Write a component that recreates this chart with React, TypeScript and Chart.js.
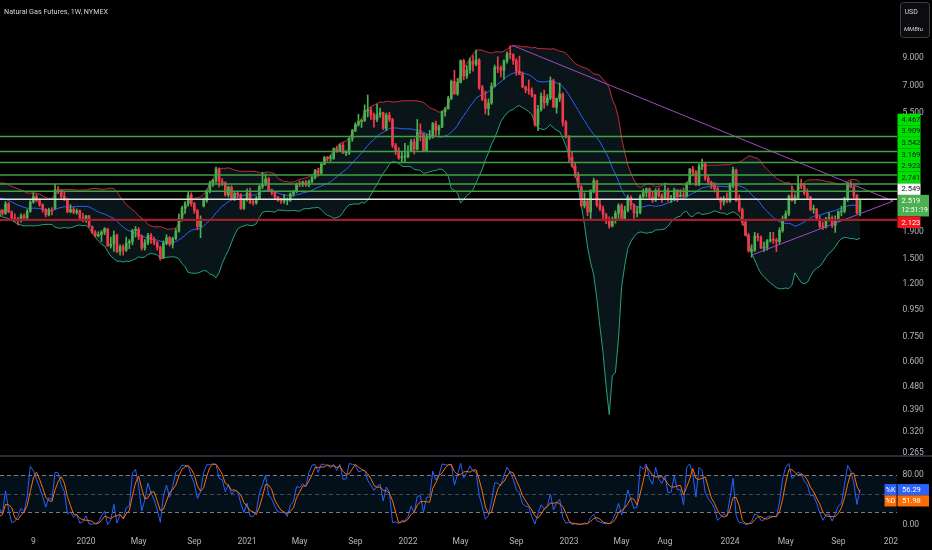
import React, { useEffect, useRef } from "react";
import { Chart, registerables } from "chart.js";

Chart.register(...registerables);

// Weekly NG1! candles [open, high, low, close]; week index 0 = 2019-02-04
const bars2019 = [
  [2.70, 2.74, 2.56, 2.58], [2.58, 2.68, 2.53, 2.57], [2.57, 2.72, 2.55, 2.70], [2.70, 2.90, 2.68, 2.86],
  [2.86, 2.96, 2.80, 2.87], [2.87, 2.89, 2.76, 2.80], [2.80, 2.86, 2.74, 2.76], [2.76, 2.77, 2.63, 2.66],
  [2.66, 2.73, 2.62, 2.67], [2.67, 2.70, 2.58, 2.66], [2.66, 2.68, 2.47, 2.49], [2.49, 2.60, 2.47, 2.57],
  [2.57, 2.64, 2.52, 2.58], [2.58, 2.66, 2.53, 2.59], [2.59, 2.68, 2.56, 2.63], [2.63, 2.65, 2.52, 2.59],
  [2.59, 2.61, 2.41, 2.45], [2.45, 2.46, 2.30, 2.33], [2.33, 2.44, 2.29, 2.34], [2.34, 2.36, 2.15, 2.19],
  [2.19, 2.35, 2.17, 2.31], [2.31, 2.33, 2.21, 2.25], [2.25, 2.50, 2.23, 2.45], [2.45, 2.48, 2.26, 2.28],
  [2.28, 2.30, 2.14, 2.16], [2.16, 2.24, 2.09, 2.12], [2.13, 2.17, 2.03, 2.12], [2.12, 2.24, 2.08, 2.20],
  [2.20, 2.24, 2.13, 2.16], [2.16, 2.33, 2.14, 2.29], [2.29, 2.52, 2.27, 2.49], [2.49, 2.70, 2.46, 2.61],
  [2.61, 2.66, 2.49, 2.52], [2.52, 2.56, 2.39, 2.43], [2.43, 2.45, 2.27, 2.33], [2.33, 2.35, 2.18, 2.22],
  [2.22, 2.36, 2.20, 2.32], [2.32, 2.37, 2.22, 2.30], [2.35, 2.92, 2.33, 2.78], [2.80, 2.86, 2.68, 2.77],
  [2.77, 2.78, 2.55, 2.62], [2.62, 2.72, 2.52, 2.55], [2.55, 2.57, 2.26, 2.28], [2.28, 2.43, 2.26, 2.33],
  [2.33, 2.37, 2.24, 2.27], [2.27, 2.34, 2.23, 2.30], [2.30, 2.32, 2.14, 2.16], [2.16, 2.25, 2.09, 2.13],
];
const bars2020 = [
  [2.13, 2.21, 2.08, 2.20], [2.20, 2.21, 1.99, 2.00], [2.00, 2.01, 1.88, 1.89], [1.89, 1.93, 1.82, 1.84],
  [1.84, 1.91, 1.82, 1.86], [1.86, 1.93, 1.75, 1.90], [1.90, 1.98, 1.86, 1.96], [1.96, 1.97, 1.68, 1.68],
  [1.68, 1.82, 1.65, 1.71], [1.71, 1.92, 1.60, 1.85], [1.85, 1.87, 1.58, 1.60], [1.60, 1.70, 1.55, 1.67],
  [1.67, 1.70, 1.55, 1.62], [1.62, 1.82, 1.60, 1.73], [1.73, 1.78, 1.64, 1.75], [1.75, 1.95, 1.70, 1.93],
  [1.93, 2.00, 1.82, 1.95], [1.95, 1.98, 1.78, 1.83], [1.83, 1.86, 1.62, 1.65], [1.65, 1.78, 1.62, 1.73],
  [1.73, 1.88, 1.70, 1.85], [1.85, 1.88, 1.72, 1.78], [1.78, 1.82, 1.70, 1.73], [1.73, 1.75, 1.62, 1.66],
  [1.66, 1.68, 1.48, 1.50], [1.52, 1.76, 1.50, 1.72], [1.72, 1.86, 1.70, 1.81], [1.81, 1.83, 1.68, 1.71],
  [1.71, 1.82, 1.65, 1.80], [1.80, 1.96, 1.78, 1.92], [1.92, 2.24, 1.90, 2.15], [2.15, 2.40, 2.10, 2.36],
  [2.36, 2.50, 2.25, 2.45], [2.45, 2.72, 2.40, 2.65], [2.65, 2.70, 2.40, 2.45], [2.45, 2.48, 2.25, 2.30],
  [2.30, 2.33, 1.95, 2.00], [2.00, 2.20, 1.81, 2.14], [2.40, 2.58, 2.38, 2.52], [2.52, 2.78, 2.48, 2.74],
  [2.74, 3.00, 2.70, 2.95], [2.95, 3.05, 2.86, 3.02], [3.02, 3.40, 2.95, 3.35], [3.35, 3.38, 2.85, 2.99],
  [2.99, 3.07, 2.88, 2.96], [2.96, 2.98, 2.62, 2.65], [2.65, 2.87, 2.60, 2.84], [2.84, 2.88, 2.53, 2.58],
  [2.58, 2.72, 2.52, 2.69], [2.69, 2.74, 2.58, 2.66], [2.66, 2.68, 2.33, 2.35], [2.35, 2.56, 2.33, 2.54],
];
const bars2021 = [
  [2.54, 2.80, 2.51, 2.70], [2.70, 2.82, 2.45, 2.48], [2.48, 2.54, 2.42, 2.47], [2.47, 2.62, 2.44, 2.56],
  [2.56, 2.90, 2.55, 2.86], [2.86, 3.25, 2.80, 2.92], [2.92, 3.20, 2.88, 3.06], [3.06, 3.10, 2.74, 2.77],
  [2.77, 2.80, 2.65, 2.71], [2.71, 2.72, 2.55, 2.60], [2.60, 2.62, 2.50, 2.52], [2.53, 2.57, 2.46, 2.51],
  [2.51, 2.66, 2.46, 2.52], [2.52, 2.58, 2.43, 2.53], [2.53, 2.70, 2.50, 2.68], [2.68, 2.76, 2.62, 2.73],
  [2.73, 2.95, 2.70, 2.93], [2.93, 3.00, 2.85, 2.92], [2.92, 3.00, 2.86, 2.97], [2.97, 3.02, 2.86, 2.90],
  [2.90, 3.03, 2.85, 2.99], [2.99, 3.13, 2.96, 3.10], [3.10, 3.33, 3.06, 3.30], [3.30, 3.37, 3.13, 3.22],
  [3.22, 3.52, 3.19, 3.49], [3.49, 3.74, 3.48, 3.70], [3.70, 3.74, 3.58, 3.67], [3.67, 3.79, 3.58, 3.68],
  [3.68, 4.04, 3.64, 4.00], [4.00, 4.09, 3.88, 3.91], [3.91, 4.18, 3.90, 4.14], [4.14, 4.22, 3.83, 3.85],
  [3.85, 3.94, 3.76, 3.86], [3.86, 4.42, 3.80, 4.39], [4.39, 4.76, 4.28, 4.71], [4.71, 5.05, 4.66, 4.96],
  [4.96, 5.45, 4.90, 5.10], [5.10, 5.20, 4.84, 5.15], [5.15, 5.92, 5.10, 5.62], [5.62, 6.47, 5.32, 5.64],
  [5.64, 5.80, 5.20, 5.41], [5.41, 5.50, 4.85, 5.20], [5.20, 5.95, 5.10, 5.43], [5.43, 5.75, 5.30, 5.52],
  [5.52, 5.55, 4.75, 4.80], [4.80, 5.50, 4.70, 5.40], [5.40, 5.55, 5.10, 5.20], [5.20, 5.25, 4.05, 4.13],
  [4.13, 4.20, 3.80, 3.93], [3.93, 4.05, 3.64, 3.69], [3.69, 3.92, 3.54, 3.73], [3.72, 4.20, 3.56, 3.73],
];
const bars2022 = [
  [3.73, 4.12, 3.69, 3.92], [3.92, 4.35, 3.90, 4.26], [4.26, 4.37, 3.82, 3.99], [3.99, 5.20, 3.96, 4.64],
  [4.64, 5.00, 4.30, 4.57], [4.57, 4.60, 3.90, 3.94], [3.94, 4.55, 3.93, 4.42], [4.42, 4.72, 4.35, 4.44],
  [4.44, 5.06, 4.40, 5.01], [5.01, 5.12, 4.48, 4.73], [4.73, 4.95, 4.52, 4.86], [4.86, 5.62, 4.83, 5.57],
  [5.57, 5.80, 5.35, 5.72], [5.72, 6.40, 5.70, 6.28], [6.28, 7.40, 6.20, 7.30], [7.30, 8.06, 6.50, 6.53],
  [6.53, 7.50, 6.45, 7.24], [7.24, 8.85, 7.20, 8.78], [8.78, 8.90, 7.40, 7.66], [7.66, 8.40, 7.50, 8.08],
  [8.08, 9.00, 7.85, 8.73], [8.73, 9.20, 8.00, 8.52], [8.52, 9.66, 8.40, 8.85], [8.85, 8.95, 6.80, 6.93],
  [6.93, 7.05, 6.15, 6.22], [6.22, 6.70, 5.46, 5.73], [5.73, 6.25, 5.40, 6.03], [6.03, 7.20, 5.95, 7.00],
  [7.00, 8.45, 6.95, 8.27], [8.27, 9.10, 7.90, 8.23], [8.23, 8.40, 7.60, 8.07], [8.07, 8.85, 7.45, 8.77],
  [8.77, 9.50, 8.60, 9.34], [9.34, 10.03, 8.95, 9.29], [9.29, 9.35, 8.50, 8.79], [8.79, 8.95, 7.70, 8.00],
  [8.00, 9.15, 7.75, 7.77], [7.77, 7.95, 6.90, 6.96], [6.96, 7.00, 6.60, 6.77], [6.77, 7.40, 6.50, 6.75],
  [6.75, 6.90, 6.35, 6.45], [6.45, 6.50, 4.90, 4.96], [4.96, 5.90, 4.70, 5.68], [5.68, 6.60, 5.60, 6.40],
  [6.40, 6.75, 5.75, 6.04], [6.04, 6.50, 5.90, 6.30], [6.30, 7.60, 6.20, 7.33], [7.33, 7.45, 5.80, 5.80],
  [5.80, 6.30, 5.50, 6.27], [6.27, 7.20, 6.10, 6.52], [6.52, 6.60, 4.90, 5.07], [5.07, 5.15, 4.40, 4.48],
];
const bars2023 = [
  [4.48, 4.50, 3.55, 3.71], [3.71, 3.91, 3.40, 3.42], [3.42, 3.55, 3.10, 3.17], [3.17, 3.25, 2.82, 2.85],
  [2.85, 2.88, 2.38, 2.41], [2.41, 2.70, 2.36, 2.51], [2.51, 2.56, 2.20, 2.28], [2.28, 2.78, 2.12, 2.75],
  [2.75, 3.08, 2.70, 3.01], [3.01, 3.03, 2.38, 2.43], [2.43, 2.55, 2.30, 2.34], [2.34, 2.40, 2.14, 2.22],
  [2.22, 2.25, 2.05, 2.10], [2.10, 2.18, 1.97, 2.01], [2.01, 2.18, 1.99, 2.11], [2.11, 2.30, 2.06, 2.25],
  [2.25, 2.45, 2.15, 2.41], [2.41, 2.45, 2.11, 2.14], [2.14, 2.40, 2.12, 2.31], [2.31, 2.65, 2.28, 2.59],
  [2.59, 2.63, 2.33, 2.42], [2.42, 2.45, 2.13, 2.26], [2.26, 2.39, 2.18, 2.27], [2.27, 2.66, 2.24, 2.62],
  [2.62, 2.80, 2.58, 2.71], [2.71, 2.82, 2.60, 2.80], [2.80, 2.82, 2.55, 2.60], [2.60, 2.72, 2.48, 2.53],
  [2.53, 2.80, 2.50, 2.76], [2.76, 2.82, 2.60, 2.63], [2.63, 2.68, 2.48, 2.58], [2.58, 2.95, 2.56, 2.77],
  [2.77, 2.82, 2.50, 2.55], [2.55, 2.64, 2.48, 2.56], [2.56, 2.82, 2.52, 2.77], [2.77, 2.78, 2.50, 2.61],
  [2.61, 2.78, 2.60, 2.64], [2.64, 2.82, 2.60, 2.63], [2.63, 2.97, 2.60, 2.93], [2.93, 3.36, 2.90, 3.34],
  [3.34, 3.42, 3.14, 3.24], [3.24, 3.30, 2.88, 2.90], [2.90, 3.50, 2.88, 3.42], [3.42, 3.65, 3.32, 3.50],
  [3.50, 3.55, 3.02, 3.08], [3.08, 3.17, 2.90, 2.97], [2.97, 3.00, 2.80, 2.89], [2.89, 2.96, 2.72, 2.80],
  [2.80, 2.85, 2.55, 2.58], [2.58, 2.60, 2.33, 2.49], [2.49, 2.62, 2.42, 2.56], [2.56, 2.70, 2.47, 2.51],
];
const bars2024 = [
  [2.51, 2.95, 2.48, 2.89], [2.89, 3.40, 2.82, 3.31], [3.31, 3.34, 2.50, 2.52], [2.52, 2.65, 2.28, 2.32],
  [2.32, 2.36, 2.03, 2.08], [2.08, 2.12, 1.84, 1.85], [1.85, 1.88, 1.59, 1.61], [1.60, 1.70, 1.52, 1.62],
  [1.62, 1.90, 1.60, 1.84], [1.84, 1.88, 1.76, 1.81], [1.81, 1.84, 1.64, 1.65], [1.65, 1.74, 1.60, 1.66],
  [1.66, 1.78, 1.62, 1.76], [1.76, 1.90, 1.74, 1.78], [1.78, 1.90, 1.72, 1.77], [1.77, 1.80, 1.60, 1.75],
  [1.75, 1.98, 1.72, 1.93], [1.93, 2.20, 1.90, 2.14], [2.14, 2.30, 2.10, 2.24], [2.24, 2.65, 2.20, 2.63],
  [2.63, 2.86, 2.50, 2.52], [2.52, 2.66, 2.45, 2.59], [2.59, 3.16, 2.55, 2.92], [2.92, 3.05, 2.80, 2.87],
  [2.87, 2.92, 2.65, 2.70], [2.70, 2.80, 2.55, 2.60], [2.60, 2.62, 2.30, 2.33], [2.33, 2.42, 2.25, 2.33],
  [2.33, 2.35, 2.11, 2.14], [2.14, 2.20, 1.97, 2.00], [2.00, 2.08, 1.95, 1.99], [1.99, 2.17, 1.97, 2.14],
  [2.14, 2.26, 2.10, 2.16], [2.16, 2.20, 1.98, 2.02], [2.02, 2.20, 1.897, 2.12], [2.12, 2.30, 2.10, 2.28],
  [2.28, 2.40, 2.20, 2.29], [2.29, 2.60, 2.26, 2.56], [2.56, 2.95, 2.50, 2.90], [2.90, 3.002, 2.82, 2.85],
  [2.85, 2.88, 2.58, 2.638], [2.638, 2.66, 2.24, 2.257], [2.27, 2.55, 2.20, 2.519],
];

// Horizontal levels drawn on the chart
const greenLevels = [4.467, 3.909, 3.542, 3.169, 2.923, 2.741];
const whiteLevel = 2.549;
const redLevel = 2.123;
const countdownText = "12:51:19";

// Trend lines [week index, price]
const upperTrend = [[185.5, 10.1], [308.7, 2.51]];
const lowerTrend = [[263, 1.55], [308.7, 2.51]];

// Axis ticks
const priceTicks = [9, 7, 5.5, 1.9, 1.5, 1.2, 0.95, 0.75, 0.6, 0.48, 0.39, 0.32, 0.265];
const stochTicks = [0, 80];
const stochLevels = [80, 50, 20];
const timeLabelWeeks = [31, 48, 65, 83, 100, 117, 135, 152, 169, 187, 204, 221, 235, 256, 274, 291, 308];
const timeLabels = ["9", "2020", "May", "Sep", "2021", "May", "Sep", "2022", "May", "Sep", "2023", "May", "Aug", "2024", "May", "Sep", "202"];

const X_MIN = 20.22;
const X_MAX = 309.95;
const PRICE_MIN = 0.258;
const PRICE_MAX = 15.1;
const STOCH_MIN = -14.95;
const STOCH_MAX = 108.8;
const BB_LEN = 20;
const BB_MULT = 2;
const K_LEN = 14;
const D_LEN = 3;

const UP = "#4caf50";
const DOWN = "#f0394a";
const AXIS_TEXT = "#b2b5be";
const FONT = "Roboto, 'Liberation Sans', sans-serif";

const bars = [...bars2019, ...bars2020, ...bars2021, ...bars2022, ...bars2023, ...bars2024];
const highs = bars.map((b) => b[1]);
const lows = bars.map((b) => b[2]);
const closes = bars.map((b) => b[3]);

function bollinger() {
  const basis: any[] = [], upper: any[] = [], lower: any[] = [];
  for (let i = BB_LEN - 1; i < closes.length; i++) {
    const w = closes.slice(i - BB_LEN + 1, i + 1);
    const m = w.reduce((a, b) => a + b, 0) / BB_LEN;
    const sd = Math.sqrt(w.reduce((a, b) => a + (b - m) * (b - m), 0) / BB_LEN);
    basis.push({ x: i, y: m });
    upper.push({ x: i, y: m + BB_MULT * sd });
    lower.push({ x: i, y: Math.max(m - BB_MULT * sd, 0.05) });
  }
  return { basis, upper, lower };
}

function stochastic() {
  const k: (number | null)[] = closes.map((c, i) => {
    if (i < K_LEN - 1) return null;
    const hh = Math.max(...highs.slice(i - K_LEN + 1, i + 1));
    const ll = Math.min(...lows.slice(i - K_LEN + 1, i + 1));
    return ((c - ll) / (hh - ll)) * 100;
  });
  const d: (number | null)[] = k.map((_, i) => {
    if (i < K_LEN - 1 + D_LEN - 1) return null;
    let s = 0;
    for (let j = i - D_LEN + 1; j <= i; j++) s += k[j] as number;
    return s / D_LEN;
  });
  return { k, d };
}

function box(ctx: CanvasRenderingContext2D, x: number, y: number, w: number, h: number, bg: string) {
  ctx.fillStyle = bg;
  ctx.fillRect(x, y, w, h);
}

export default function App() {
  const mainRef = useRef<HTMLCanvasElement>(null);
  const lowRef = useRef<HTMLCanvasElement>(null);

  useEffect(() => {
    document.body.style.margin = "0";
    document.body.style.background = "#000";
    Chart.defaults.font.family = FONT;

    const bb = bollinger();
    const st = stochastic();
    const colors = bars.map((b) => (b[3] >= b[0] ? UP : DOWN));

    const mainPlugin = {
      id: "mainOverlay",
      afterDatasetsDraw(chart: any) {
        const { ctx, chartArea, scales } = chart;
        const y = scales.y;
        ctx.save();
        const line = (v: number, color: string, w: number) => {
          const py = y.getPixelForValue(v);
          ctx.strokeStyle = color;
          ctx.lineWidth = w;
          ctx.beginPath();
          ctx.moveTo(chartArea.left, py);
          ctx.lineTo(chartArea.right, py);
          ctx.stroke();
        };
        greenLevels.forEach((v) => line(v, "#43a047", 1.4));
        line(whiteLevel, "#e6e6e6", 1.5);
        line(redLevel, "#a11f28", 2.2);
        ctx.restore();
      },
      afterDraw(chart: any) {
        const { ctx, scales } = chart;
        const y = scales.y;
        ctx.save();
        // title
        ctx.fillStyle = "#d1d4dc";
        ctx.font = "7.2px " + FONT;
        ctx.textBaseline = "middle";
        ctx.textAlign = "left";
        ctx.fillText("Natural Gas Futures, 1W, NYMEX", 4, 12);
        // currency box
        ctx.fillStyle = "#0c0c0e";
        ctx.strokeStyle = "#3a3e48";
        ctx.lineWidth = 1;
        ctx.beginPath();
        (ctx as any).roundRect(900.5, 2.5, 29, 35, 3);
        ctx.fill();
        ctx.stroke();
        ctx.fillStyle = "#d1d4dc";
        ctx.font = "7px " + FONT;
        ctx.fillText("USD", 904.5, 12);
        ctx.font = "italic 6px " + FONT;
        ctx.fillText("MMBtu", 904, 29.5);

        // price labels
        const H = 11.6;
        const x0 = 897.5;
        const W = 23;
        const last = closes[closes.length - 1];
        const curY = y.getPixelForValue(last);
        const curTop = curY - H / 2;
        const curH = H + 10;
        box(ctx, x0, curTop, 31.5, curH, "#4caf50");
        ctx.fillStyle = "#ffffff";
        ctx.font = "7.5px " + FONT;
        ctx.fillText(last.toFixed(3), 901.5, curTop + H / 2 + 0.5);
        ctx.font = "6.8px " + FONT;
        ctx.fillText(countdownText, 901.5, curTop + H / 2 + 10);

        ctx.font = "7.5px " + FONT;
        const above = [
          { v: whiteLevel, bg: "#ffffff", fg: "#131722" },
          ...greenLevels.map((v) => ({ v, bg: "#00e000", fg: "#131722" })),
        ].sort((a, b) => a.v - b.v);
        let limit = curTop;
        for (const it of above) {
          const yc = y.getPixelForValue(it.v);
          const bottom = Math.min(yc + H / 2, limit);
          const top = bottom - H;
          box(ctx, x0, top, W, H, it.bg);
          ctx.fillStyle = it.fg;
          ctx.fillText(it.v.toFixed(3), 901.5, top + H / 2 + 0.5);
          limit = top;
        }
        const below = [{ v: redLevel, bg: "#f5161c", fg: "#ffffff" }].sort((a, b) => b.v - a.v);
        let lim2 = curTop + curH;
        for (const it of below) {
          const yc = y.getPixelForValue(it.v);
          const top = Math.max(yc - H / 2, lim2);
          box(ctx, x0, top, W, H, it.bg);
          ctx.fillStyle = it.fg;
          ctx.fillText(it.v.toFixed(3), 901.5, top + H / 2 + 0.5);
          lim2 = top + H;
        }
        ctx.restore();
      },
    };

    const main = new Chart(mainRef.current as HTMLCanvasElement, {
      type: "bar",
      data: {
        datasets: [
          {
            type: "line",
            data: bb.lower,
            borderColor: "#26a17b",
            borderWidth: 1,
            pointRadius: 0,
            fill: "+1",
            backgroundColor: "#0a1519",
            order: 10,
          } as any,
          { type: "line", data: bb.upper, borderColor: "rgba(230,50,60,0.85)", borderWidth: 1, pointRadius: 0, fill: false, order: 9 } as any,
          { type: "line", data: bb.basis, borderColor: "#2962ff", borderWidth: 1, pointRadius: 0, fill: false, order: 8 } as any,
          {
            type: "bar",
            data: bars.map((b, i) => ({ x: i, y: [b[2], b[1]] })),
            backgroundColor: colors,
            barThickness: 1,
            grouped: false,
            borderWidth: 0,
            order: 5,
          } as any,
          {
            type: "bar",
            data: bars.map((b, i) => ({ x: i, y: [b[0], b[3]] })),
            backgroundColor: colors,
            barThickness: 2,
            minBarLength: 1,
            grouped: false,
            borderWidth: 0,
            order: 4,
          } as any,
          { type: "line", data: upperTrend.map((p) => ({ x: p[0], y: p[1] })), borderColor: "#a547c0", borderWidth: 1, pointRadius: 0, fill: false, order: 1 } as any,
          { type: "line", data: lowerTrend.map((p) => ({ x: p[0], y: p[1] })), borderColor: "#a547c0", borderWidth: 1, pointRadius: 0, fill: false, order: 1 } as any,
        ],
      },
      options: {
        responsive: false,
        animation: false,
        events: [],
        layout: { padding: 0 },
        plugins: { legend: { display: false }, tooltip: { enabled: false }, filler: { propagate: false } as any },
        scales: {
          x: { type: "linear", min: X_MIN, max: X_MAX, display: false, offset: false },
          y: {
            type: "logarithmic",
            position: "right",
            min: PRICE_MIN,
            max: PRICE_MAX,
            grid: { display: false, drawTicks: false },
            border: { display: false },
            ticks: {
              color: AXIS_TEXT,
              font: { size: 8.5, family: FONT },
              padding: 5.5,
              autoSkip: false,
              callback: (v: any) => Number(v).toFixed(3),
            },
            afterBuildTicks: (s: any) => {
              s.ticks = priceTicks.map((v) => ({ value: v }));
            },
            afterFit: (s: any) => {
              s.width = 35;
              s.paddingTop = 0;
              s.paddingBottom = 0;
            },
          } as any,
        },
      } as any,
      plugins: [mainPlugin],
    });

    const lowPlugin = {
      id: "stochOverlay",
      beforeDatasetsDraw(chart: any) {
        const { ctx, chartArea, scales } = chart;
        const y = scales.y;
        ctx.save();
        const top = y.getPixelForValue(stochLevels[0]);
        const bot = y.getPixelForValue(stochLevels[2]);
        ctx.fillStyle = "rgba(33,150,243,0.1)";
        ctx.fillRect(chartArea.left, top, chartArea.right - chartArea.left, bot - top);
        ctx.setLineDash([4, 3]);
        ctx.lineWidth = 1;
        stochLevels.forEach((v, i) => {
          const py = Math.round(y.getPixelForValue(v)) + 0.5;
          ctx.strokeStyle = i === 1 ? "rgba(120,123,134,0.55)" : "#787b86";
          ctx.beginPath();
          ctx.moveTo(chartArea.left, py);
          ctx.lineTo(chartArea.right, py);
          ctx.stroke();
        });
        ctx.restore();
      },
      afterDraw(chart: any) {
        const { ctx, scales } = chart;
        const y = scales.y;
        const lastK = st.k[st.k.length - 1] as number;
        const lastD = st.d[st.d.length - 1] as number;
        const H = 11.2;
        ctx.save();
        ctx.font = "7.2px " + FONT;
        ctx.textBaseline = "middle";
        const kTop = y.getPixelForValue(lastK) - H / 2;
        const dTop = Math.max(y.getPixelForValue(lastD) - H / 2, kTop + H);
        const items = [
          { top: kTop, tag: "%K", val: lastK, bg: "#2962ff" },
          { top: dTop, tag: "%D", val: lastD, bg: "#ff6d00" },
        ];
        for (const it of items) {
          box(ctx, 884.5, it.top, 12, H, it.bg);
          box(ctx, 897.5, it.top, 31.5, H, it.bg);
          ctx.fillStyle = "#ffffff";
          ctx.textAlign = "center";
          ctx.fillText(it.tag, 890.5, it.top + H / 2 + 0.5);
          ctx.textAlign = "left";
          ctx.font = "7.5px " + FONT;
          ctx.fillText(it.val.toFixed(2), 902, it.top + H / 2 + 0.5);
          ctx.font = "7.2px " + FONT;
        }
        ctx.restore();
      },
    };

    const low = new Chart(lowRef.current as HTMLCanvasElement, {
      type: "line",
      data: {
        datasets: [
          {
            data: st.d.map((v, i) => (v == null ? null : { x: i, y: v })).filter((p) => p) as any,
            borderColor: "#ff6d00",
            borderWidth: 1,
            pointRadius: 0,
            fill: false,
          },
          {
            data: st.k.map((v, i) => (v == null ? null : { x: i, y: v })).filter((p) => p) as any,
            borderColor: "#2962ff",
            borderWidth: 1,
            pointRadius: 0,
            fill: false,
          },
        ],
      },
      options: {
        responsive: false,
        animation: false,
        events: [],
        layout: { padding: 0 },
        plugins: { legend: { display: false }, tooltip: { enabled: false } },
        scales: {
          x: {
            type: "linear",
            min: X_MIN,
            max: X_MAX,
            offset: false,
            grid: { display: false, drawTicks: false },
            border: { display: false },
            ticks: {
              color: AXIS_TEXT,
              font: { size: 8.5, family: FONT },
              padding: 3,
              autoSkip: false,
              maxRotation: 0,
              callback: (_v: any, i: number) => timeLabels[i],
            },
            afterBuildTicks: (s: any) => {
              s.ticks = timeLabelWeeks.map((v) => ({ value: v }));
            },
            afterFit: (s: any) => {
              s.height = 16;
              s.paddingLeft = 0;
              s.paddingRight = 0;
            },
          } as any,
          y: {
            type: "linear",
            position: "right",
            min: STOCH_MIN,
            max: STOCH_MAX,
            grid: { display: false, drawTicks: false },
            border: { display: false },
            ticks: {
              color: AXIS_TEXT,
              font: { size: 8.5, family: FONT },
              padding: 5.5,
              autoSkip: false,
              callback: (v: any) => Number(v).toFixed(2),
            },
            afterBuildTicks: (s: any) => {
              s.ticks = stochTicks.map((v) => ({ value: v }));
            },
            afterFit: (s: any) => {
              s.width = 35;
              s.paddingTop = 0;
              s.paddingBottom = 0;
            },
          } as any,
        },
      } as any,
      plugins: [lowPlugin],
    });

    return () => {
      main.destroy();
      low.destroy();
    };
  }, []);

  return (
    <div style={{ position: "relative", width: 932, height: 550, background: "#000", overflow: "hidden" }}>
      <canvas ref={mainRef} width={932} height={456} style={{ position: "absolute", left: 0, top: 0 }} />
      <div style={{ position: "absolute", left: 0, top: 455, width: 932, height: 2, background: "#2a2e39" }} />
      <canvas ref={lowRef} width={932} height={93} style={{ position: "absolute", left: 0, top: 457 }} />
    </div>
  );
}
